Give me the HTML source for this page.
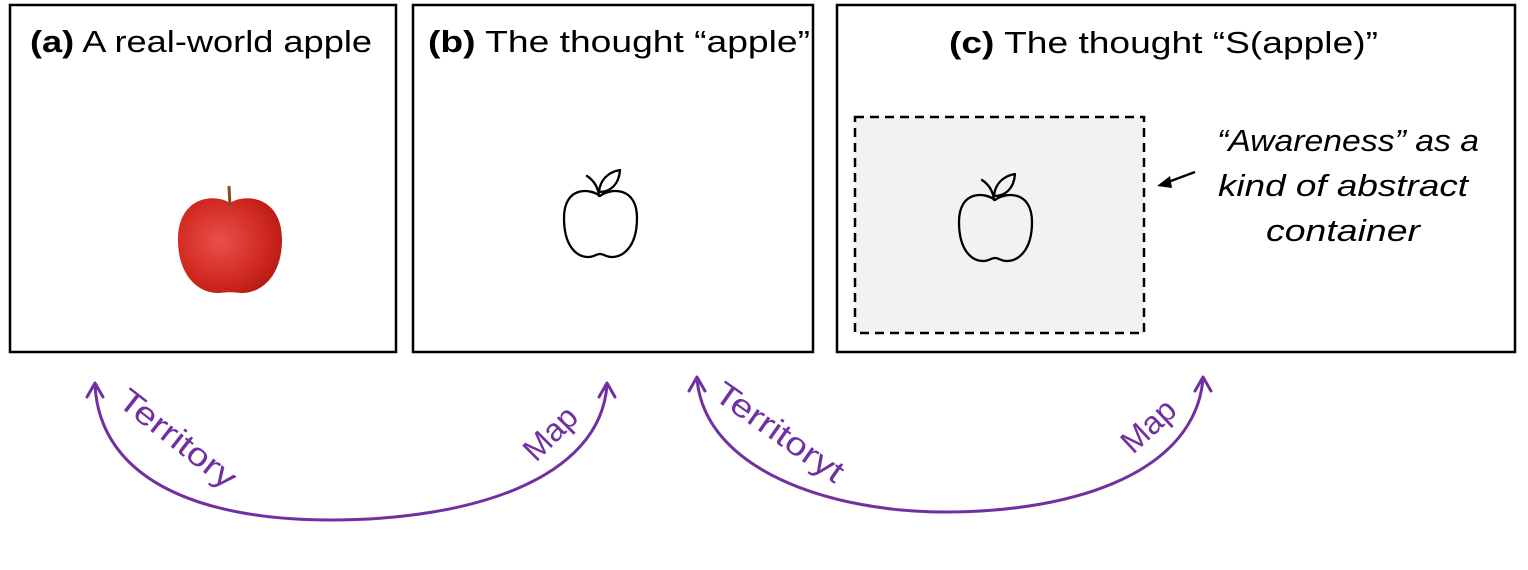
<!DOCTYPE html>
<html><head><meta charset="utf-8"><style>
html,body{margin:0;padding:0;background:#fff;width:1528px;height:570px;overflow:hidden}
svg{display:block}
text{font-family:"Liberation Sans",sans-serif}
</style></head><body>
<svg width="1528" height="570" viewBox="0 0 1528 570" xmlns="http://www.w3.org/2000/svg">
<defs>
<radialGradient id="ag" cx="0.4" cy="0.45" r="0.7">
<stop offset="0" stop-color="#e8504a"/><stop offset="0.6" stop-color="#d22a22"/><stop offset="1" stop-color="#b0170f"/>
</radialGradient>
<symbol id="apl" viewBox="0 0 100 110">
<g fill="none" stroke="#000" stroke-width="2.3" stroke-linejoin="round" stroke-linecap="round">
<path d="M50,36 C40,28 14,26 14,58 C14,88 28,97 38,97 C44,97 46,94 50,94 C54,94 56,97 62,97 C72,97 87,88 87,58 C87,26 60,28 50,36 Z"/>
<path d="M49,36 C48,26 43,20 37,16"/>
<path d="M49,32 C50,20 58,12 70,10 C69,24 61,32 49,32 Z"/>
</g>
</symbol>
</defs>
<g fill="none" stroke="#000" stroke-width="2.5">
<rect x="10" y="5" width="386" height="347"/>
<rect x="413" y="5" width="400" height="347"/>
<rect x="837" y="5" width="678" height="347"/>
</g>
<rect x="855" y="117" width="289" height="216" fill="#f2f2f2" stroke="#000" stroke-width="2.5" stroke-dasharray="9,6"/>
<text x="30" y="52" font-size="31" textLength="342" lengthAdjust="spacingAndGlyphs"><tspan font-weight="bold">(a)</tspan> A real-world apple</text>
<text x="428" y="52" font-size="31" textLength="382" lengthAdjust="spacingAndGlyphs"><tspan font-weight="bold">(b)</tspan> The thought “apple”</text>
<text x="949" y="53" font-size="31" textLength="429" lengthAdjust="spacingAndGlyphs"><tspan font-weight="bold">(c)</tspan> The thought “S(apple)”</text>
<!-- real apple -->
<path d="M230,203 C245,193 282,196 282,240 C282,275 262,294 240,293 C234,292 226,292 220,293 C198,294 178,275 178,240 C178,196 215,193 230,203 Z" fill="url(#ag)"/>
<path d="M229,186 L230,206" stroke="#8a4a20" stroke-width="3"/>
<use href="#apl" x="550" y="160" width="100" height="110"/>
<use href="#apl" x="945" y="164" width="100" height="110"/>
<!-- awareness text -->
<g font-style="italic" font-size="31" fill="#000" text-anchor="middle">
<text x="1348" y="151" textLength="262" lengthAdjust="spacingAndGlyphs">“Awareness” as a</text>
<text x="1343" y="196" textLength="250" lengthAdjust="spacingAndGlyphs">kind of abstract</text>
<text x="1343" y="241" textLength="154" lengthAdjust="spacingAndGlyphs">container</text>
</g>
<path d="M1195,172 L1160,185" stroke="#000" stroke-width="2.3"/>
<path d="M1157,186 L1170,176 L1172,188 Z" fill="#000"/>
<!-- arcs -->
<g fill="none" stroke="#7030a0" stroke-width="3" stroke-linecap="round" stroke-linejoin="round">
<path d="M95,385 C100,480 200,520 330,520 C470,520 600,480 607,385"/>
<path d="M87,397 L95,383 L103,397"/>
<path d="M599,397 L607,383 L615,397"/>
<path d="M697,379 C705,470 830,512 945,512 C1080,512 1195,470 1203,379"/>
<path d="M689,391 L697,377 L705,391"/>
<path d="M1195,391 L1203,377 L1211,391"/>
</g>
<g font-size="32" fill="#7030a0">
<text transform="translate(116,404) rotate(38)" textLength="140" lengthAdjust="spacingAndGlyphs">Territory</text>
<text transform="translate(536,463) rotate(-45)">Map</text>
<text transform="translate(712,398) rotate(35)" textLength="150" lengthAdjust="spacingAndGlyphs">Territoryt</text>
<text transform="translate(1133,455) rotate(-43)">Map</text>
</g>
</svg>
</body></html>
